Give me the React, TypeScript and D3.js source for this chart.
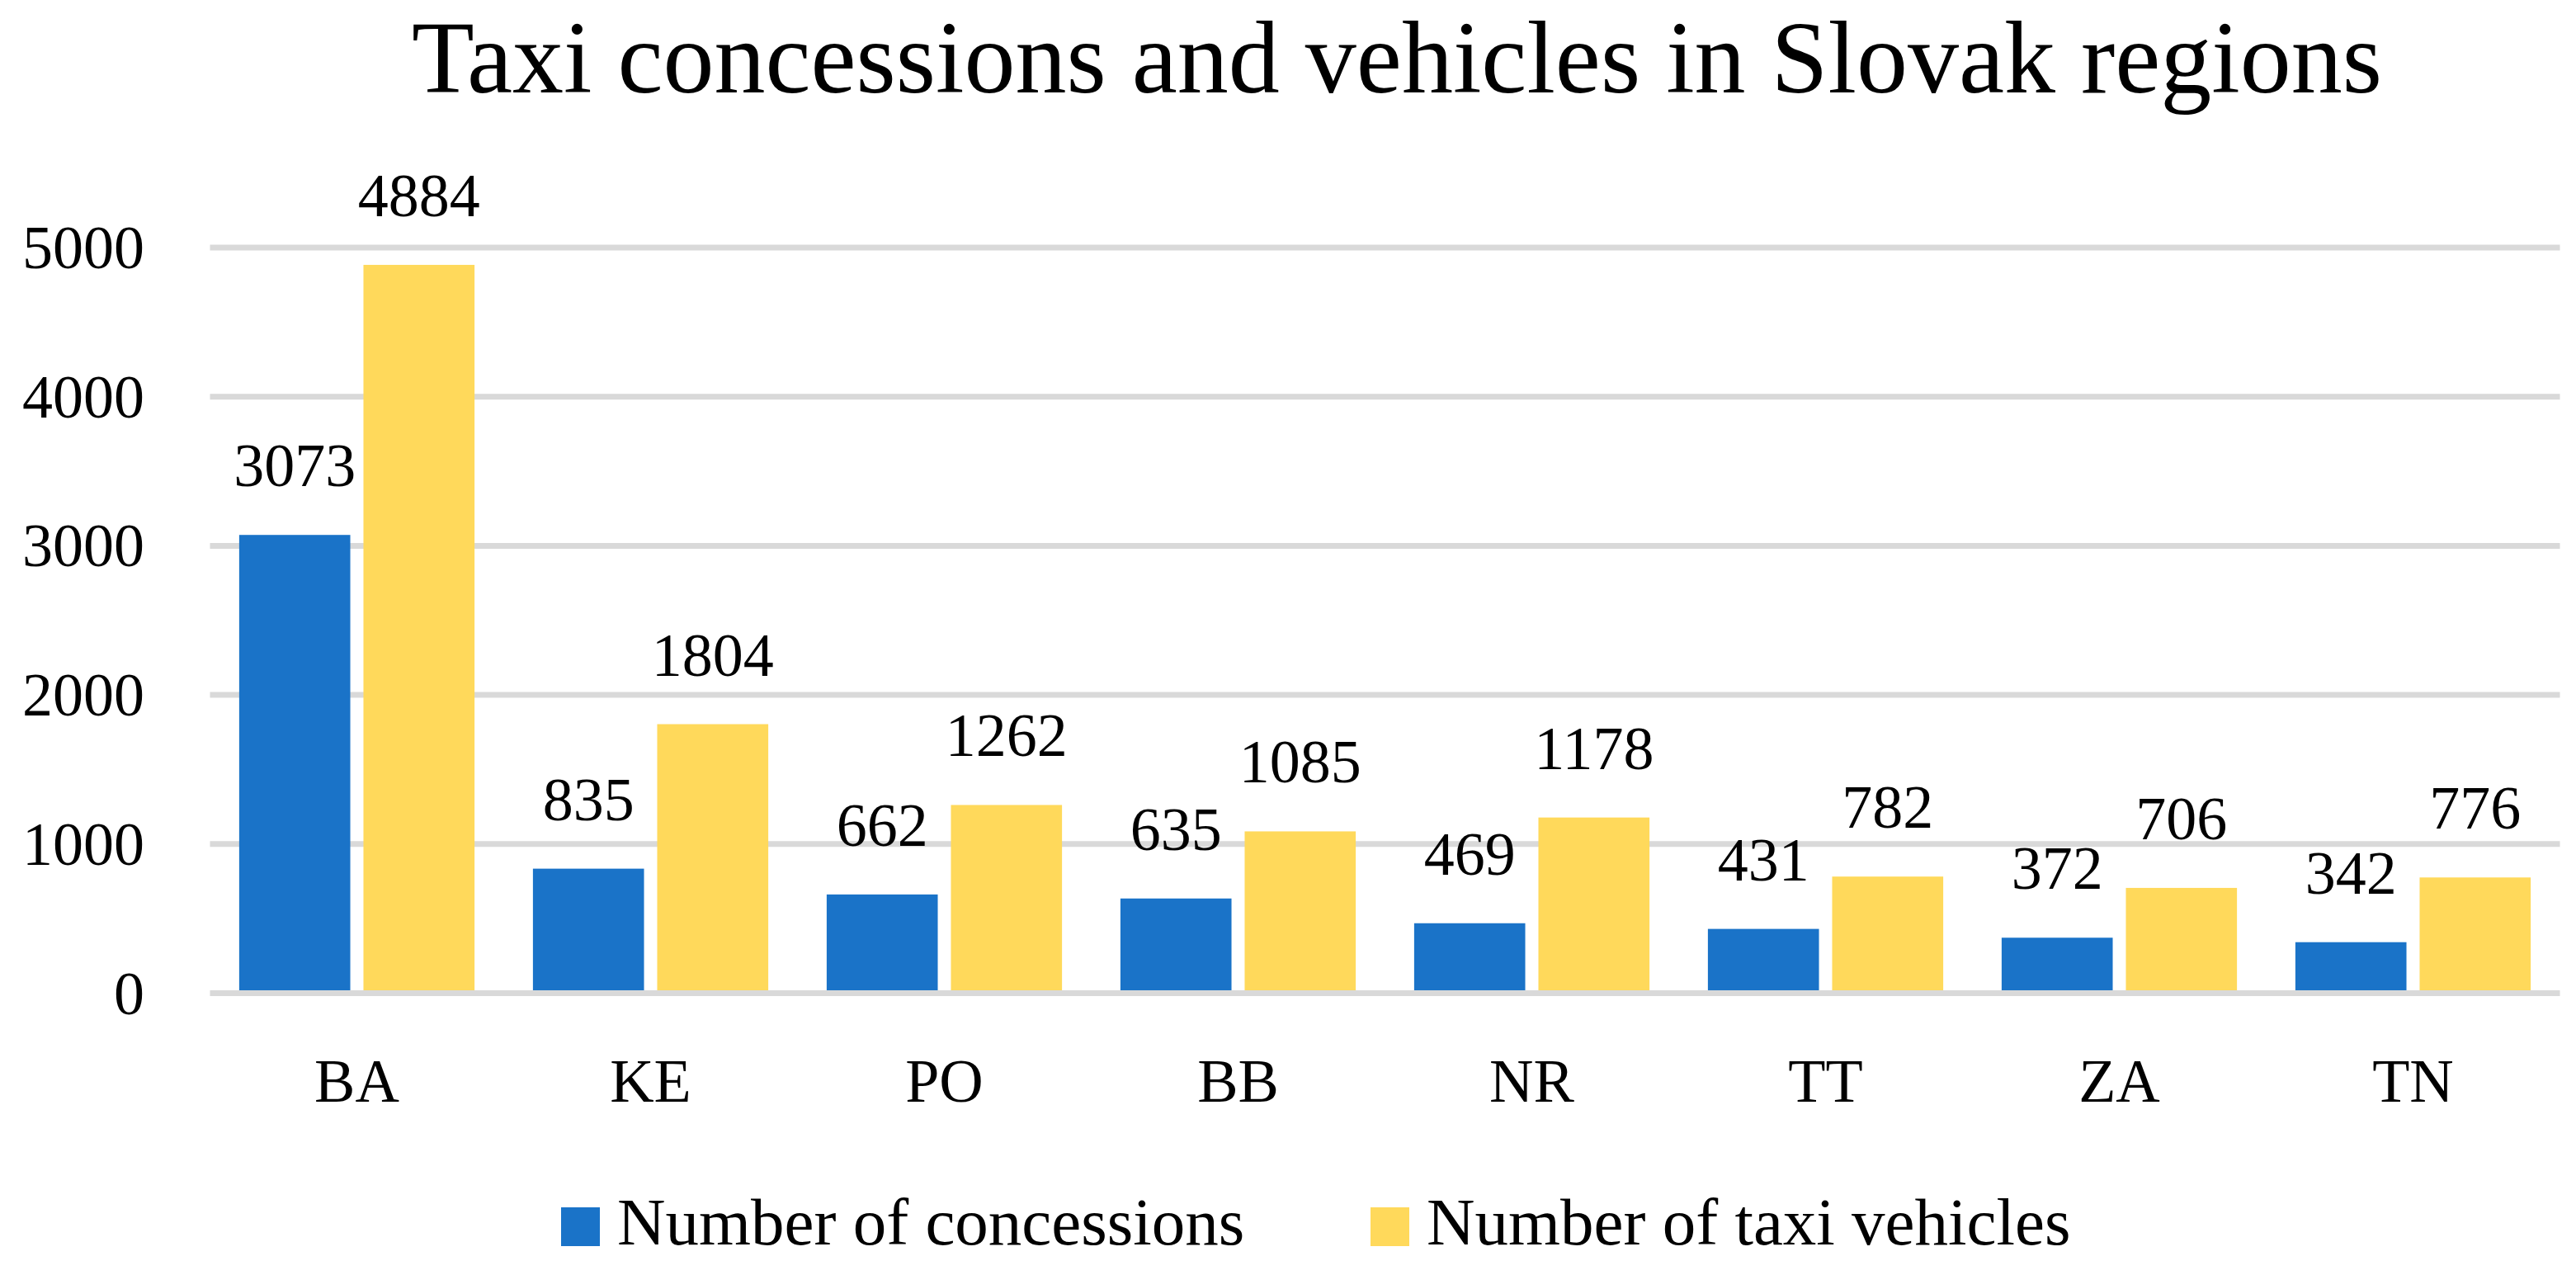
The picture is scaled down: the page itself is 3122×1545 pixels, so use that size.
import React, { useEffect } from 'react';
import * as d3 from 'd3';

const regions = ['BA', 'KE', 'PO', 'BB', 'NR', 'TT', 'ZA', 'TN'];
const seriesNames = ['Number of concessions', 'Number of taxi vehicles'];
const seriesColors = ['#1a73c8', '#ffd95b'];
const concessions = [3073, 835, 662, 635, 469, 431, 372, 342];
const vehicles = [4884, 1804, 1262, 1085, 1178, 782, 706, 776];
const yTicks = [0, 1000, 2000, 3000, 4000, 5000];

const width = 3122;
const height = 1545;
const font = '"Liberation Serif", "Times New Roman", serif';

const App: React.FC = () => {
  useEffect(() => {
    document.body.style.margin = '0';
  }, []);

  const x = d3.scaleBand<string>().domain(regions).range([254.5, 3102.5]).padding(0);
  const xInner = d3
    .scaleBand<string>()
    .domain(seriesNames)
    .range([0, x.bandwidth()])
    .paddingInner(0.106)
    .paddingOuter(0.235);
  const y = d3.scaleLinear().domain([0, 5000]).range([1203.5, 300]);

  const rows = regions.map((r, i) => ({ region: r, values: [concessions[i], vehicles[i]] }));
  const legendX = [680, 1661];

  return (
    <svg width={width} height={height} style={{ display: 'block', background: '#fff' }} fontFamily={font}>
      <text x={1693} y={112} textAnchor="middle" fontSize={124} fill="#000">
        Taxi concessions and vehicles in Slovak regions
      </text>

      {/* gridlines behind bars */}
      {yTicks.filter(t => t > 0).map(t => (
        <line key={t} x1={x.range()[0]} x2={x.range()[1]} y1={y(t)} y2={y(t)} stroke="#d9d9d9" strokeWidth={7} />
      ))}

      {yTicks.map(t => (
        <text key={t} x={175} y={y(t) + 25} textAnchor="end" fontSize={74} fill="#000">
          {t}
        </text>
      ))}

      {rows.map(row => (
        <g key={row.region} transform={`translate(${x(row.region)},0)`}>
          {row.values.map((v, j) => (
            <g key={j}>
              <rect
                x={xInner(seriesNames[j])}
                y={y(v)}
                width={xInner.bandwidth()}
                height={y(0) - y(v)}
                fill={seriesColors[j]}
              />
              <text
                x={(xInner(seriesNames[j]) || 0) + xInner.bandwidth() / 2}
                y={y(v) - 59}
                textAnchor="middle"
                fontSize={74}
                fill="#000"
              >
                {v}
              </text>
            </g>
          ))}
          <text x={x.bandwidth() / 2} y={1335} textAnchor="middle" fontSize={74} fill="#000">
            {row.region}
          </text>
        </g>
      ))}

      {/* horizontal axis line on top */}
      <line x1={x.range()[0]} x2={x.range()[1]} y1={y(0)} y2={y(0)} stroke="#d9d9d9" strokeWidth={7} />

      {seriesNames.map((name, i) => (
        <g key={name} transform={`translate(${legendX[i]},0)`}>
          <rect x={0} y={1463} width={47} height={47} fill={seriesColors[i]} />
          <text x={68} y={1508} fontSize={81} fill="#000">
            {name}
          </text>
        </g>
      ))}
    </svg>
  );
};

export default App;
